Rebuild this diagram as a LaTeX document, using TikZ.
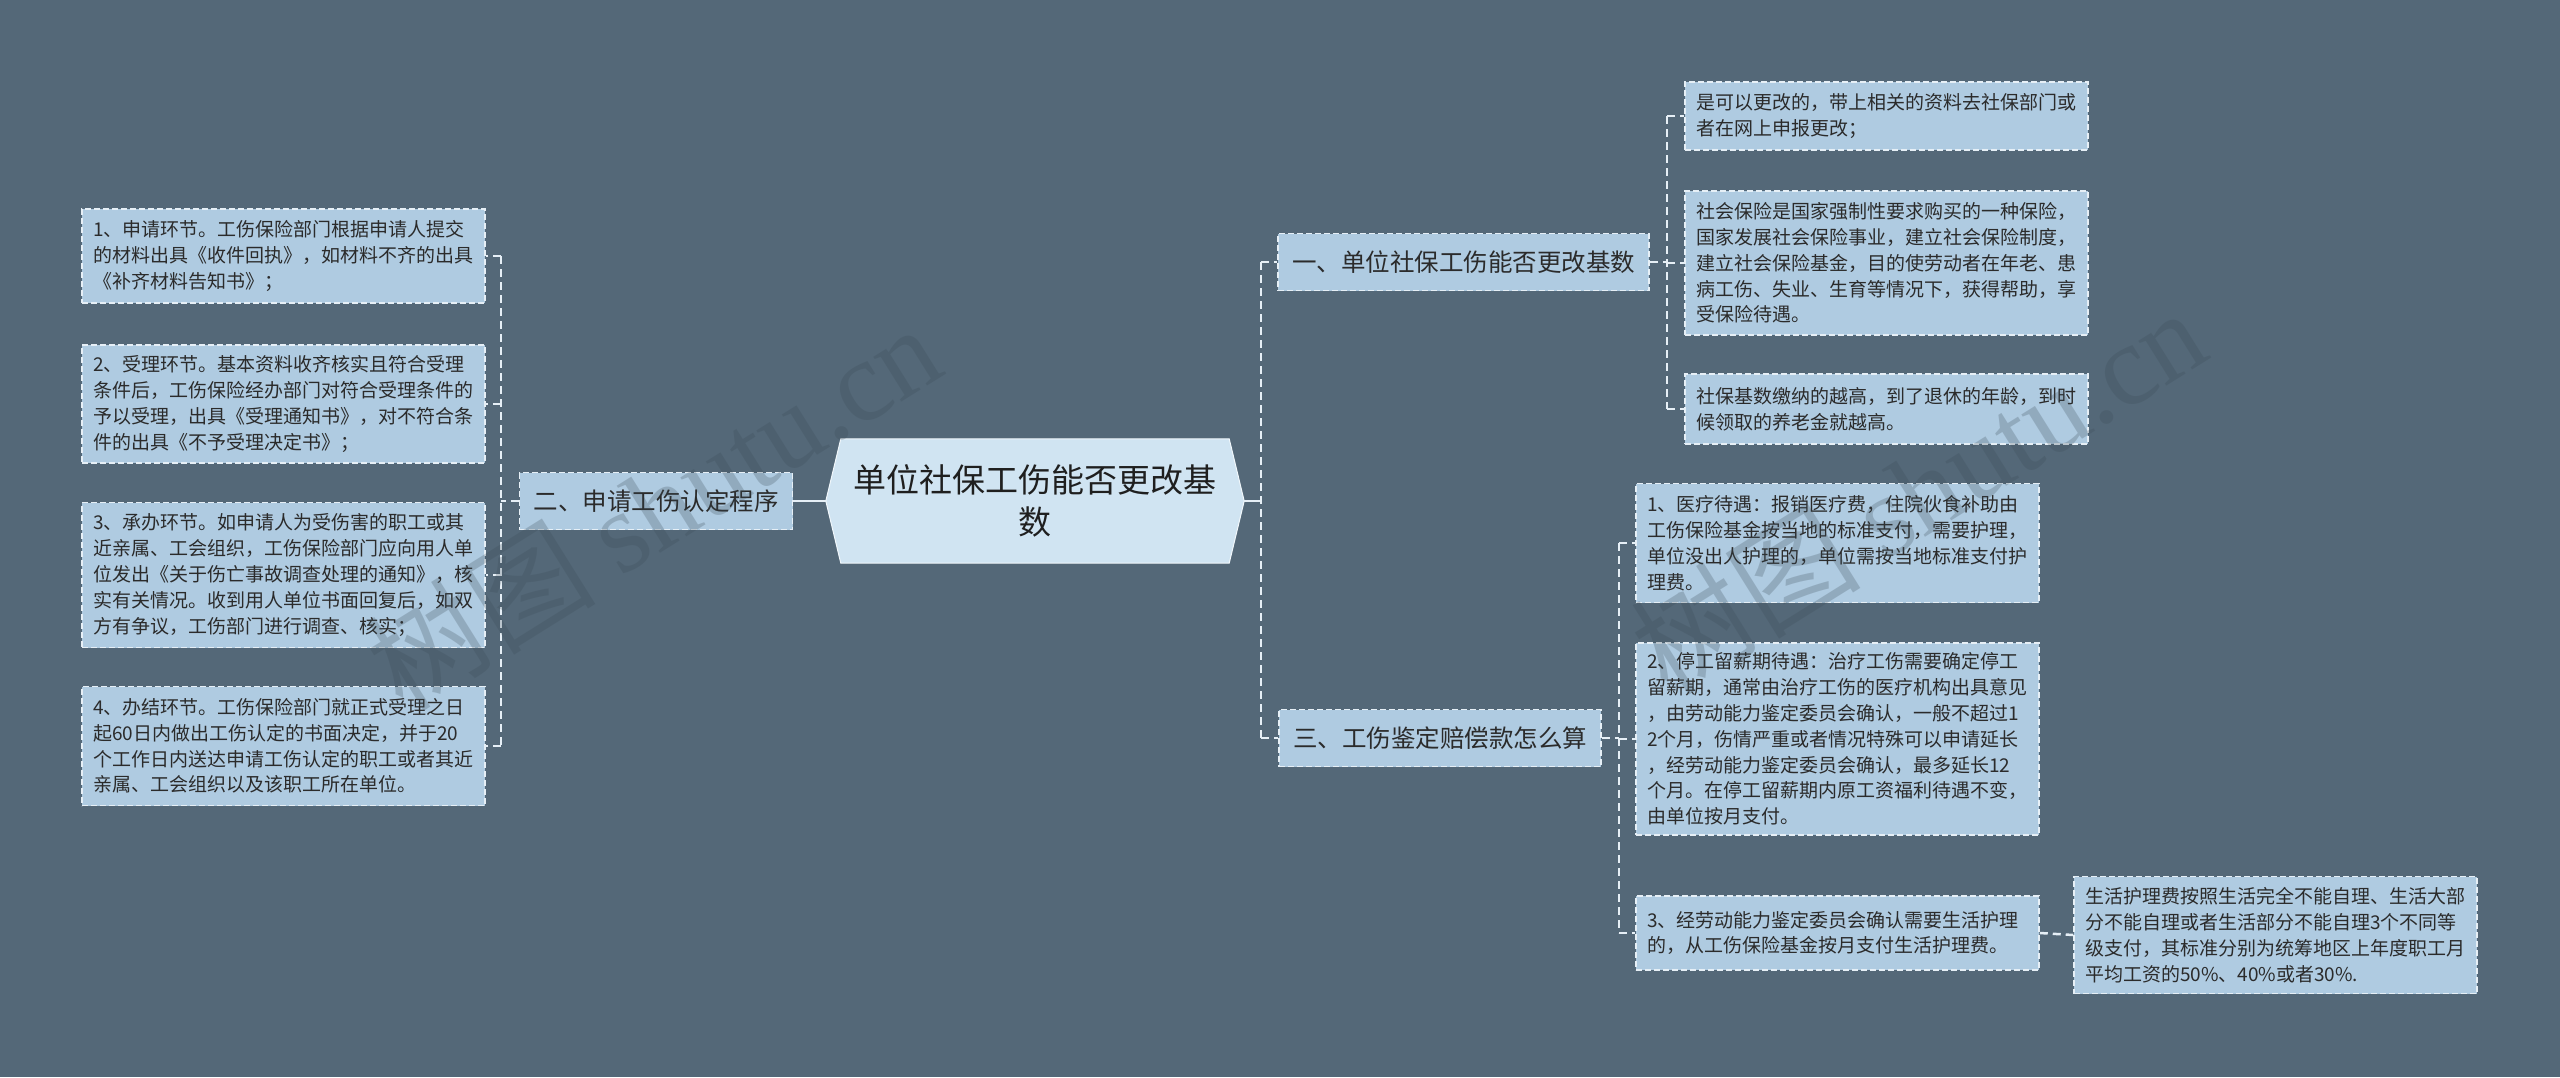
\documentclass[tikz,border=0pt]{standalone}
\usepackage{fontspec}
\setmainfont{Noto Sans CJK SC}
\newfontfamily\wmlatin{Liberation Serif}
\usetikzlibrary{backgrounds}
\definecolor{bgc}{HTML}{546878}
\definecolor{boxc}{HTML}{AFCBE1}
\definecolor{cenc}{HTML}{D0E4F2}
\definecolor{linec}{HTML}{E6EFF6}
\definecolor{txtc}{HTML}{2B2B2B}
\definecolor{wmc}{HTML}{3A4A55}
\begin{document}
\begin{tikzpicture}[x=1pt,y=-1pt,
  leaf/.style={draw=linec, fill=boxc, dash pattern=on 6pt off 3pt, line width=1.5pt,
    text=txtc, font=\fontsize{19}{25.8}\selectfont, text width=381pt, align=left,
    inner xsep=11pt, inner ysep=0pt, anchor=center},
  midbox/.style={draw=linec, fill=boxc, dash pattern=on 6pt off 3pt, line width=1.5pt,
    text=txtc, font=\fontsize{24.5}{30}\selectfont, inner xsep=14pt, inner ysep=0pt,
    minimum height=57pt, anchor=center},
  conn/.style={draw=linec, line width=2.5pt, dash pattern=on 8pt off 5pt},
  solidconn/.style={draw=linec, line width=2.5pt},
  wmark/.style={text=wmc, opacity=0.25, font=\fontsize{115}{115}\selectfont, rotate=32}
]
\useasboundingbox (0,0) rectangle (2560,1077);
\begin{scope}[on background layer]
\fill[bgc] (0,0) rectangle (2560,1077);
\end{scope}

% center
\node (center) at (1035,501) [minimum width=418pt, minimum height=124pt, align=center,
  inner sep=0pt, text=black!88, font=\fontsize{33}{42}\selectfont] {单位社保工伤能否更改基\\数};
\begin{scope}[on background layer]
\filldraw[fill=cenc, draw=white!70!cenc, line width=1pt] (center.west) -- ([xshift=15pt]center.north west)
  -- ([xshift=-15pt]center.north east) -- (center.east) -- ([xshift=-15pt]center.south east)
  -- ([xshift=15pt]center.south west) -- cycle;
\end{scope}

% level 1
\node[midbox] (n2) at (656,501) {二、申请工伤认定程序};
\node[midbox] (n1) at (1463.5,262) {一、单位社保工伤能否更改基数};
\node[midbox] (n3) at (1440,738) {三、工伤鉴定赔偿款怎么算};

% left leaves
\node[leaf, minimum height=94pt] (L1) at (283.5,256) {1、申请环节。工伤保险部门根据申请人提交\\的材料出具《收件回执》，如材料不齐的出具\\《补齐材料告知书》；};
\node[leaf, minimum height=118pt] (L2) at (283.5,404) {2、受理环节。基本资料收齐核实且符合受理\\条件后，工伤保险经办部门对符合受理条件的\\予以受理，出具《受理通知书》，对不符合条\\件的出具《不予受理决定书》；};
\node[leaf, minimum height=145pt] (L3) at (283.5,575) {3、承办环节。如申请人为受伤害的职工或其\\近亲属、工会组织，工伤保险部门应向用人单\\位发出《关于伤亡事故调查处理的通知》，核\\实有关情况。收到用人单位书面回复后，如双\\方有争议，工伤部门进行调查、核实；};
\node[leaf, minimum height=119pt] (L4) at (283.5,746) {4、办结环节。工伤保险部门就正式受理之日\\起60日内做出工伤认定的书面决定，并于20\\个工作日内送达申请工伤认定的职工或者其近\\亲属、工会组织以及该职工所在单位。};

% right leaves of n1
\node[leaf, minimum height=68pt] (R1a) at (1886.5,116) {是可以更改的，带上相关的资料去社保部门或\\者在网上申报更改；};
\node[leaf, minimum height=144pt] (R1b) at (1886.5,263) {社会保险是国家强制性要求购买的一种保险，\\国家发展社会保险事业，建立社会保险制度，\\建立社会保险基金，目的使劳动者在年老、患\\病工伤、失业、生育等情况下，获得帮助，享\\受保险待遇。};
\node[leaf, minimum height=70pt] (R1c) at (1886.5,409) {社保基数缴纳的越高，到了退休的年龄，到时\\候领取的养老金就越高。};

% right leaves of n3
\node[leaf, minimum height=119pt] (R3a) at (1837.5,543) {1、医疗待遇：报销医疗费，住院伙食补助由\\工伤保险基金按当地的标准支付，需要护理，\\单位没出人护理的，单位需按当地标准支付护\\理费。};
\node[leaf, minimum height=192pt] (R3b) at (1837.5,739) {2、停工留薪期待遇：治疗工伤需要确定停工\\留薪期，通常由治疗工伤的医疗机构出具意见\\，由劳动能力鉴定委员会确认，一般不超过1\\2个月，伤情严重或者情况特殊可以申请延长\\，经劳动能力鉴定委员会确认，最多延长12\\个月。在停工留薪期内原工资福利待遇不变，\\由单位按月支付。};
\node[leaf, minimum height=74pt] (R3c) at (1837.5,933) {3、经劳动能力鉴定委员会确认需要生活护理\\的，从工伤保险基金按月支付生活护理费。};
\node[leaf, minimum height=117pt] (R3d) at (2275.5,935) {生活护理费按照生活完全不能自理、生活大部\\分不能自理或者生活部分不能自理3个不同等\\级支付，其标准分别为统筹地区上年度职工月\\平均工资的50\%、40\%或者30\%.};

% junctions
\coordinate (jl) at (501,501);
\coordinate (jr) at (1261,501);
\coordinate (j1) at (1667,262);
\coordinate (j3) at (1619,738);

% center to level 1
\draw[solidconn] (center.west) -- (n2.east);
\draw[solidconn] (center.east) -- (jr);
\draw[conn] (jr |- n1.west) -- (jr |- n3.west);
\draw[conn] (jr |- n1.west) -- (n1.west);
\draw[conn] (jr |- n3.west) -- (n3.west);

% left tree
\draw[conn] (n2.west) -- (jl);
\draw[conn] (jl |- L1.east) -- (jl |- L4.east);
\draw[conn] (jl |- L1.east) -- (L1.east);
\draw[conn] (jl |- L2.east) -- (L2.east);
\draw[conn] (jl |- L3.east) -- (L3.east);
\draw[conn] (jl |- L4.east) -- (L4.east);

% n1 tree
\draw[conn] (n1.east) -- (j1);
\draw[conn] (j1 |- R1a.west) -- (j1 |- R1c.west);
\draw[conn] (j1 |- R1a.west) -- (R1a.west);
\draw[conn] (j1 |- R1b.west) -- (R1b.west);
\draw[conn] (j1 |- R1c.west) -- (R1c.west);

% n3 tree
\draw[conn] (n3.east) -- (j3);
\draw[conn] (j3 |- R3a.west) -- (j3 |- R3c.west);
\draw[conn] (j3 |- R3a.west) -- (R3a.west);
\draw[conn] (j3 |- R3b.west) -- (R3b.west);
\draw[conn] (j3 |- R3c.west) -- (R3c.west);
\draw[conn] (R3c.east) -- (R3d.west);

% watermarks
\node[wmark] (wm1) at (653,506) {树图 {\wmlatin shutu.cn}};
\node[wmark] (wm2) at (1918,490) {树图 {\wmlatin shutu.cn}};
\end{tikzpicture}
\end{document}
